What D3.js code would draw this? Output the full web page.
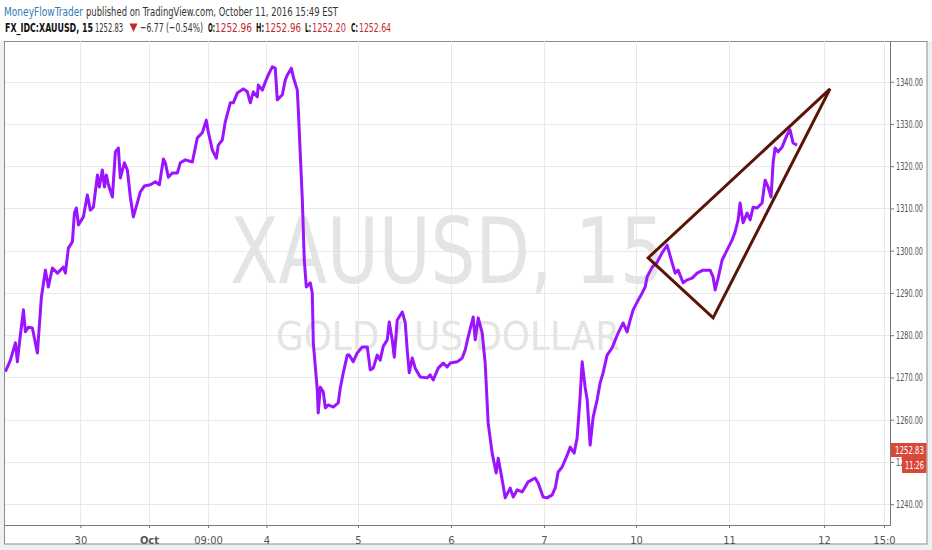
<!DOCTYPE html>
<html>
<head>
<meta charset="utf-8">
<script src="https://cdn.jsdelivr.net/npm/d3@7"></script>
<style>
  body { margin: 0; background: #ffffff; }
  svg { display: block; }
  .narrow { font-family: "Liberation Sans Narrow", "DejaVu Sans Condensed", "Arial Narrow", sans-serif; }
</style>
</head>
<body>
<script>
// price series, time in days from Sep 30 00:00 (trading time, weekend removed)
const timeDays = [
  -0.806, -0.752, -0.698, -0.677, -0.655, -0.612, -0.591, -0.559, -0.516, -0.462,
  -0.419, -0.376, -0.344, -0.301, -0.247, -0.183, -0.161, -0.129, -0.086, -0.064,
  -0.043, -0.021, 0.032, 0.075, 0.107, 0.140, 0.183, 0.204, 0.236, 0.258,
  0.279, 0.301, 0.344, 0.376, 0.408, 0.429, 0.473, 0.505, 0.537, 0.569,
  0.612, 0.644, 0.687, 0.752, 0.806, 0.849, 0.892, 0.913, 0.945, 0.988,
  1.042, 1.074, 1.128, 1.203, 1.257, 1.310, 1.353, 1.375, 1.418, 1.461,
  1.482, 1.525, 1.557, 1.611, 1.643, 1.686, 1.751, 1.794, 1.826, 1.858,
  1.901, 1.912, 1.955, 1.987, 2.019, 2.062, 2.094, 2.116, 2.170, 2.202,
  2.224, 2.267, 2.288, 2.331, 2.342, 2.385, 2.406, 2.428, 2.470, 2.492,
  2.503, 2.546, 2.556, 2.578, 2.610, 2.632, 2.664, 2.718, 2.771, 2.793,
  2.825, 2.868, 2.889, 2.932, 2.975, 3.029, 3.083, 3.115, 3.147, 3.190,
  3.222, 3.255, 3.298, 3.319, 3.351, 3.373, 3.405, 3.459, 3.491, 3.512,
  3.534, 3.566, 3.598, 3.652, 3.727, 3.759, 3.792, 3.845, 3.899, 3.942,
  3.974, 4.049, 4.103, 4.135, 4.167, 4.221, 4.243, 4.275, 4.318, 4.350,
  4.382, 4.425, 4.468, 4.490, 4.533, 4.565, 4.619, 4.651, 4.694, 4.747,
  4.780, 4.812, 4.887, 4.919, 4.973, 5.016, 5.070, 5.102, 5.134, 5.177,
  5.231, 5.263, 5.306, 5.338, 5.370, 5.392, 5.424, 5.446, 5.478, 5.510,
  5.553, 5.585, 5.617, 5.660, 5.714, 5.768, 5.832, 5.875, 5.908, 5.940,
  5.994, 6.037, 6.069, 6.090, 6.144, 6.198, 6.251, 6.305, 6.359, 6.391,
  6.423, 6.477, 6.520, 6.574, 6.627, 6.692, 6.767, 6.799, 6.821, 6.853,
  6.896, 6.950, 7.003, 7.035, 7.068, 7.089, 7.121, 7.164, 7.197, 7.229,
  7.272, 7.325, 7.358, 7.390, 7.422, 7.444, 7.465, 7.497, 7.540, 7.594,
  7.626, 7.658, 7.701
];
const price = [
  1271.4, 1274.1, 1278.2, 1273.7, 1278.2, 1286.0, 1280.8, 1281.9, 1281.7, 1275.8,
  1289.0, 1295.4, 1291.4, 1295.9, 1294.7, 1296.1, 1294.7, 1300.6, 1302.1, 1308.9,
  1310.1, 1306.1, 1308.0, 1313.2, 1309.6, 1310.3, 1317.9, 1315.1, 1319.1, 1315.1,
  1317.9, 1315.6, 1312.7, 1323.4, 1324.3, 1317.2, 1320.8, 1319.1, 1312.7, 1308.0,
  1311.3, 1313.9, 1315.3, 1315.6, 1316.3, 1315.6, 1321.7, 1320.8, 1317.4, 1318.4,
  1318.4, 1320.8, 1321.5, 1321.0, 1326.7, 1327.9, 1330.9, 1328.1, 1323.8, 1321.9,
  1325.0, 1326.2, 1330.5, 1335.0, 1335.0, 1337.3, 1338.3, 1337.6, 1335.0, 1337.6,
  1336.4, 1339.2, 1338.0, 1339.9, 1341.6, 1343.5, 1343.2, 1335.7, 1336.9, 1340.4,
  1341.6, 1343.2, 1341.1, 1338.0, 1333.3, 1312.0, 1297.8, 1291.4, 1292.4, 1290.0,
  1278.2, 1267.0, 1261.6, 1267.7, 1266.6, 1262.8, 1263.5, 1263.0, 1264.0, 1267.5,
  1271.1, 1275.3, 1275.3, 1273.7, 1275.8, 1277.2, 1277.2, 1271.8, 1272.2, 1275.3,
  1274.1, 1277.4, 1278.9, 1283.1, 1278.9, 1274.8, 1283.6, 1285.5, 1282.9, 1276.5,
  1271.1, 1274.6, 1272.2, 1270.1, 1269.9, 1270.6, 1269.4, 1272.2, 1273.4, 1272.5,
  1273.4, 1273.7, 1274.6, 1276.5, 1279.6, 1284.3, 1278.9, 1284.1, 1280.5, 1273.4,
  1259.2, 1252.1, 1247.4, 1250.9, 1245.7, 1241.5, 1243.8, 1241.7, 1243.4, 1242.9,
  1244.1, 1245.3, 1246.2, 1245.0, 1241.7, 1241.5, 1242.2, 1243.8, 1247.6, 1248.8,
  1251.6, 1253.5, 1252.1, 1255.7, 1265.4, 1273.7, 1267.7, 1264.7, 1254.0, 1260.6,
  1264.7, 1268.7, 1271.1, 1275.3, 1277.0, 1280.0, 1282.9, 1280.8, 1283.6, 1286.0,
  1288.3, 1290.0, 1291.4, 1293.8, 1296.1, 1297.3, 1299.5, 1301.3, 1297.1, 1294.7,
  1295.4, 1292.4, 1293.1, 1293.5, 1294.7, 1295.4, 1295.4, 1293.8, 1290.7, 1293.5,
  1297.8, 1300.2, 1302.5, 1304.4, 1307.3, 1311.3, 1306.6, 1308.9, 1307.3, 1310.3,
  1310.1, 1311.3, 1316.7, 1315.1, 1312.7, 1320.8, 1324.3, 1323.4, 1324.5, 1327.4,
  1328.6, 1325.5, 1325.0
];

// hand-drawn wedge
const triangleTime = [6.101, 6.799, 8.056];
const trianglePrice = [1298.3, 1284.1, 1338.3];

const xTickValues = [0, 0.737, 1.371, 2, 2.983, 3.982, 4.982, 5.971, 6.970, 7.991, 8.635];
const xTickLabels = ["30", "Oct", "09:00", "4", "5", "6", "7", "10", "11", "12", "15:0"];
const yTickValues = [1240, 1250, 1260, 1270, 1280, 1290, 1300, 1310, 1320, 1330, 1340];

const lastPrice = 1252.83;
const countdown = "11:26";

const width = 932, height = 550;
const plot = { left: 5, right: 890, top: 41, bottom: 525 };

const svg = d3.select("body").append("svg")
  .attr("width", width)
  .attr("height", height);

svg.append("rect").attr("width", width).attr("height", height).attr("fill", "#eef1f4");
svg.append("rect").attr("width", width).attr("height", 41).attr("fill", "#ffffff");
svg.append("rect")
  .attr("x", 4.5).attr("y", 41.5)
  .attr("width", 922.5).attr("height", 502.5)
  .attr("fill", "#ffffff").attr("stroke", "#8c8c8c");

const x = d3.scaleLinear().domain([-0.81, 8.70]).range([plot.left, plot.right]);
const y = d3.scaleLinear().domain([1235.08, 1349.63]).range([plot.bottom, plot.top]);

// header
const header = svg.append("g").attr("font-family", "\"Liberation Sans Narrow\", \"DejaVu Sans Condensed\", sans-serif");
header.append("text").attr("x", 4).attr("y", 16).attr("font-size", 13)
  .attr("fill", "#2e7bb6").attr("textLength", 79).attr("lengthAdjust", "spacingAndGlyphs")
  .text("MoneyFlowTrader");
header.append("text").attr("x", 86).attr("y", 16).attr("font-size", 13)
  .attr("fill", "#333").attr("textLength", 252).attr("lengthAdjust", "spacingAndGlyphs")
  .text("published on TradingView.com, October 11, 2016 15:49 EST");

const line2 = [
  { t: "FX_IDC:XAUUSD, 15", x: 5, w: 88, c: "#111", b: true },
  { t: "1252.83", x: 95, w: 28, c: "#333", b: false },
  { t: "\u22126.77 (\u22120.54%)", x: 140, w: 63, c: "#333", b: false },
  { t: "O:", x: 208, w: 7, c: "#111", b: true },
  { t: "1252.96", x: 215, w: 37, c: "#c4262e", b: false },
  { t: "H:", x: 256, w: 8, c: "#111", b: true },
  { t: "1252.96", x: 265, w: 36, c: "#c4262e", b: false },
  { t: "L:", x: 305, w: 6, c: "#111", b: true },
  { t: "1252.20", x: 312, w: 34, c: "#c4262e", b: false },
  { t: "C:", x: 351, w: 7, c: "#111", b: true },
  { t: "1252.64", x: 359, w: 32, c: "#c4262e", b: false }
];
header.selectAll("text.l2").data(line2).enter().append("text")
  .attr("class", "l2")
  .attr("x", (d) => d.x).attr("y", 32)
  .attr("font-size", 13)
  .attr("font-weight", (d) => d.b ? "bold" : "normal")
  .attr("fill", (d) => d.c)
  .attr("textLength", (d) => d.w).attr("lengthAdjust", "spacingAndGlyphs")
  .text((d) => d.t);
header.append("path").attr("d", "M129.5,23.5 L137.5,23.5 L133.5,32 Z").attr("fill", "#c4262e");

// grid
const grid = svg.append("g").attr("stroke", "#e9e9e9").attr("stroke-width", 1);
grid.selectAll("line.h").data(yTickValues).enter().append("line")
  .attr("x1", plot.left).attr("x2", plot.right)
  .attr("y1", (d) => Math.round(y(d)) + 0.5).attr("y2", (d) => Math.round(y(d)) + 0.5);
grid.selectAll("line.v").data(xTickValues).enter().append("line")
  .attr("y1", plot.top).attr("y2", plot.bottom)
  .attr("x1", (d) => Math.round(x(d)) + 0.5).attr("x2", (d) => Math.round(x(d)) + 0.5);

// watermark
svg.append("text").attr("class", "narrow")
  .attr("x", 230).attr("y", 283).attr("font-size", 90).attr("fill", "#e4e4e4")
  .attr("textLength", 435).attr("lengthAdjust", "spacingAndGlyphs")
  .text("XAUUSD, 15");
svg.append("text").attr("class", "narrow")
  .attr("x", 276).attr("y", 350).attr("font-size", 39).attr("fill", "#e4e4e4")
  .attr("textLength", 344).attr("lengthAdjust", "spacingAndGlyphs")
  .text("GOLD / US DOLLAR");

// price line
svg.append("clipPath").attr("id", "plotclip").append("rect")
  .attr("x", plot.left).attr("y", plot.top)
  .attr("width", plot.right - plot.left).attr("height", plot.bottom - plot.top);

const series = timeDays.map((t, i) => ({ t: t, p: price[i] }));
const priceLine = d3.line().x((d) => x(d.t)).y((d) => y(d.p));

svg.append("path")
  .datum(series)
  .attr("clip-path", "url(#plotclip)")
  .attr("fill", "none")
  .attr("stroke", "#9b14ff")
  .attr("stroke-width", 3)
  .attr("stroke-linejoin", "round")
  .attr("d", priceLine);

const wedge = triangleTime.map((t, i) => ({ t: t, p: trianglePrice[i] }));
svg.append("path")
  .datum(wedge)
  .attr("fill", "none")
  .attr("stroke", "#5b1508")
  .attr("stroke-width", 3)
  .attr("stroke-linejoin", "miter")
  .attr("d", d3.line().x((d) => x(d.t)).y((d) => y(d.p)).curve(d3.curveLinearClosed));

// axes
const yAxis = svg.append("g")
  .attr("transform", "translate(" + plot.right + ",0)")
  .call(d3.axisRight(y).tickValues(yTickValues).tickSize(4).tickPadding(2).tickFormat(d3.format(".2f")));
yAxis.select(".domain").remove();
yAxis.selectAll("line").attr("stroke", "#777");
yAxis.selectAll("text")
  .attr("class", "narrow")
  .attr("font-size", 11)
  .attr("fill", "#555")
  .attr("textLength", 27).attr("lengthAdjust", "spacingAndGlyphs");

const xAxis = svg.append("g")
  .attr("transform", "translate(0," + plot.bottom + ")")
  .call(d3.axisBottom(x).tickValues(xTickValues).tickSize(3).tickPadding(8)
    .tickFormat((d, i) => xTickLabels[i]));
xAxis.select(".domain").remove();
xAxis.selectAll("line").attr("stroke", "#777");
xAxis.selectAll("text")
  .attr("class", "narrow")
  .attr("font-size", 11)
  .attr("fill", "#555")
  .attr("font-weight", (d, i) => xTickLabels[i] === "Oct" ? "bold" : "normal");

svg.append("line").attr("x1", 4.5).attr("x2", plot.right + 0.5)
  .attr("y1", plot.bottom + 0.5).attr("y2", plot.bottom + 0.5).attr("stroke", "#777");
svg.append("line").attr("x1", plot.right + 0.5).attr("x2", plot.right + 0.5)
  .attr("y1", plot.top).attr("y2", plot.bottom + 0.5).attr("stroke", "#777");

// last price and countdown labels
const tagY = y(lastPrice);
svg.append("rect").attr("x", plot.right + 1).attr("y", tagY - 7)
  .attr("width", 926.5 - plot.right - 1).attr("height", 14).attr("fill", "#d9493a");
svg.append("text").attr("class", "narrow")
  .attr("x", 895).attr("y", tagY + 4).attr("font-size", 11).attr("fill", "#fff")
  .attr("textLength", 29).attr("lengthAdjust", "spacingAndGlyphs")
  .text(d3.format(".2f")(lastPrice));
svg.append("rect").attr("x", 902).attr("y", tagY + 7)
  .attr("width", 24.5).attr("height", 16).attr("fill", "#d9493a");
svg.append("text").attr("class", "narrow")
  .attr("x", 905).attr("y", tagY + 19).attr("font-size", 11).attr("fill", "#fff")
  .attr("textLength", 19).attr("lengthAdjust", "spacingAndGlyphs")
  .text(countdown);
</script>
</body>
</html>
